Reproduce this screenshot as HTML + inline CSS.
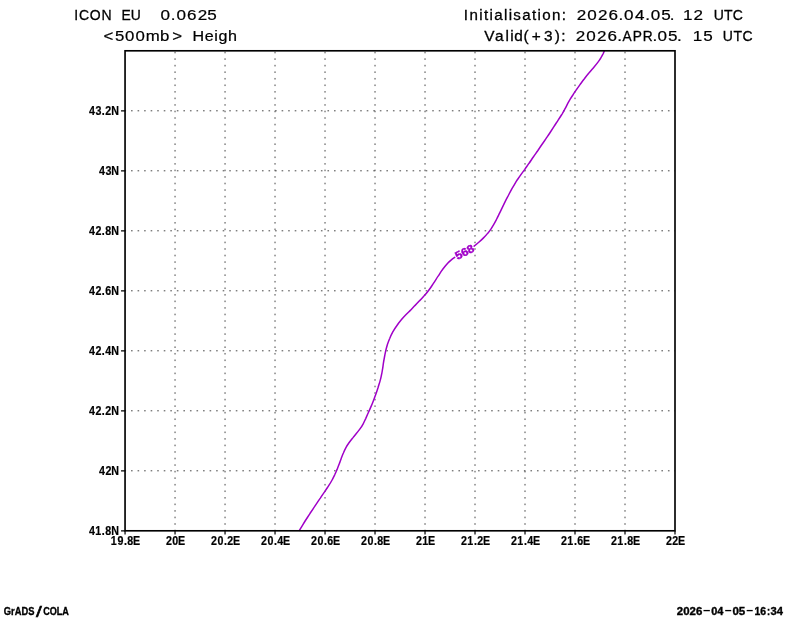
<!DOCTYPE html>
<html><head><meta charset="utf-8"><title>GrADS plot</title>
<style>html,body{margin:0;padding:0;background:#fff}svg{display:block}text{font-family:"Liberation Sans",sans-serif}</style></head>
<body>
<svg width="800" height="618" viewBox="0 0 800 618">
<rect width="800" height="618" fill="#fff"/>
<path d="M175.04 530.80V50.80M225.04 530.80V50.80M275.03 530.80V50.80M325.03 530.80V50.80M375.02 530.80V50.80M425.02 530.80V50.80M475.01 530.80V50.80M525.01 530.80V50.80M575.00 530.80V50.80M625.00 530.80V50.80" fill="none" stroke="#484848" stroke-width="1.0" stroke-dasharray="1.6 4.948" stroke-dashoffset="0.55"/>
<path d="M675.00 470.80H125.05M675.00 410.80H125.05M675.00 350.80H125.05M675.00 290.80H125.05M675.00 230.80H125.05M675.00 170.80H125.05M675.00 110.80H125.05" fill="none" stroke="#484848" stroke-width="1.0" stroke-dasharray="1.6 4.948" stroke-dashoffset="1.1"/>
<path d="M299.4 530.4C300.3 528.9 303.1 524.3 304.8 521.5C306.6 518.6 308.4 516.0 310.1 513.3C311.9 510.7 313.6 508.2 315.2 505.6C316.9 503.1 318.6 500.5 320.3 498.1C321.9 495.6 323.6 493.2 325.1 491.1C326.5 488.9 327.8 487.1 329.0 485.2C330.2 483.4 331.1 481.8 332.1 480.0C333.0 478.3 333.8 476.6 334.7 474.8C335.5 473.1 336.3 471.2 337.1 469.4C337.8 467.6 338.6 465.6 339.3 463.8C340.0 462.0 340.6 460.1 341.3 458.3C342.0 456.5 342.6 454.8 343.4 453.0C344.1 451.2 344.9 449.5 345.8 447.8C346.8 446.1 347.8 444.5 349.0 442.8C350.1 441.2 351.5 439.5 352.8 437.9C354.1 436.2 355.6 434.4 356.9 432.8C358.2 431.1 359.5 429.6 360.5 428.1C361.6 426.6 362.4 425.3 363.2 423.8C364.1 422.2 364.8 420.5 365.7 418.6C366.5 416.8 367.4 414.7 368.3 412.7C369.2 410.7 370.1 408.7 371.0 406.6C371.9 404.6 372.7 402.5 373.5 400.4C374.3 398.3 375.1 396.2 375.9 394.1C376.6 392.0 377.3 389.9 378.0 387.8C378.6 385.7 379.3 383.6 379.9 381.6C380.4 379.6 380.9 377.7 381.3 375.8C381.8 373.8 382.1 372.0 382.4 370.0C382.8 368.0 383.0 366.0 383.3 363.9C383.6 361.8 384.0 359.6 384.4 357.5C384.8 355.3 385.2 353.1 385.7 350.9C386.2 348.8 386.8 346.6 387.4 344.5C388.1 342.4 388.9 340.3 389.8 338.2C390.6 336.1 391.7 334.0 392.8 331.9C394.0 329.9 395.2 327.9 396.6 326.0C397.9 324.1 399.4 322.1 400.9 320.3C402.4 318.5 404.0 316.8 405.6 315.1C407.1 313.5 408.7 312.0 410.3 310.4C411.8 308.8 413.4 307.2 414.9 305.6C416.5 304.0 418.2 302.2 419.7 300.6C421.3 299.0 422.8 297.3 424.2 295.8C425.6 294.2 426.8 292.8 428.0 291.2C429.2 289.7 430.3 288.2 431.4 286.5C432.5 284.8 433.7 283.0 434.8 281.3C435.9 279.6 437.0 277.8 438.1 276.2C439.1 274.6 440.2 273.0 441.2 271.4C442.3 269.9 443.4 268.4 444.5 267.0C445.6 265.6 446.8 264.2 447.9 263.0C449.0 261.8 450.2 260.8 451.3 259.9C452.4 258.9 454.1 257.7 454.7 257.3" fill="none" stroke="#a000c8" stroke-width="1.5" stroke-linecap="round" stroke-linejoin="round"/>
<path d="M474.1 246.1C474.9 245.5 477.2 243.6 478.8 242.2C480.3 240.9 482.0 239.4 483.5 237.9C485.0 236.5 486.4 234.9 487.6 233.4C488.9 232.0 489.9 230.6 490.9 229.1C491.9 227.6 492.8 226.0 493.8 224.3C494.8 222.7 495.7 220.9 496.7 219.0C497.7 217.1 498.6 215.2 499.6 213.2C500.6 211.2 501.5 209.1 502.5 207.1C503.5 205.1 504.4 203.2 505.4 201.1C506.4 199.1 507.5 197.1 508.6 195.0C509.7 192.9 510.9 190.6 512.1 188.4C513.4 186.2 514.8 183.9 516.1 181.7C517.5 179.6 519.0 177.5 520.4 175.4C521.8 173.4 523.3 171.4 524.8 169.4C526.2 167.3 527.7 165.3 529.1 163.2C530.6 161.1 532.0 158.9 533.5 156.8C535.0 154.7 536.4 152.6 537.9 150.5C539.3 148.4 540.7 146.3 542.1 144.3C543.5 142.3 544.7 140.5 546.0 138.6C547.3 136.7 548.5 135.0 549.8 133.0C551.1 131.0 552.5 128.8 553.9 126.6C555.3 124.4 556.9 122.1 558.3 119.9C559.7 117.8 561.0 115.7 562.2 113.8C563.4 111.8 564.4 109.9 565.4 108.1C566.3 106.4 567.1 104.7 567.9 103.2C568.7 101.7 569.4 100.4 570.2 99.1C571.1 97.7 571.9 96.5 572.9 95.0C573.8 93.5 574.9 91.9 576.1 90.1C577.3 88.4 578.6 86.5 580.0 84.6C581.4 82.7 582.9 80.6 584.4 78.7C585.9 76.7 587.5 74.7 589.1 72.8C590.7 70.8 592.4 69.0 593.9 67.2C595.4 65.4 596.8 63.7 598.0 62.1C599.2 60.6 600.2 59.0 601.0 57.6C601.9 56.3 602.5 55.0 603.0 54.0C603.5 52.9 604.0 51.7 604.2 51.2" fill="none" stroke="#a000c8" stroke-width="1.5" stroke-linecap="round" stroke-linejoin="round"/>
<text id="clab" transform="translate(464.5 251.9) rotate(-27.5)" y="4.0" text-anchor="middle" stroke="#a000c8" stroke-width="0.4" font-size="11.2" font-weight="bold" fill="#a000c8" textLength="20.0" lengthAdjust="spacingAndGlyphs">568</text>
<path d="M125.05 530.80V534.40M175.04 530.80V534.40M225.04 530.80V534.40M275.03 530.80V534.40M325.03 530.80V534.40M375.02 530.80V534.40M425.02 530.80V534.40M475.01 530.80V534.40M525.01 530.80V534.40M575.00 530.80V534.40M625.00 530.80V534.40M674.99 530.80V534.40M125.05 530.80H121.05M125.05 470.80H121.05M125.05 410.80H121.05M125.05 350.80H121.05M125.05 290.80H121.05M125.05 230.80H121.05M125.05 170.80H121.05M125.05 110.80H121.05" fill="none" stroke="#000" stroke-width="1.2"/>
<rect x="125.05" y="50.8" width="549.95" height="480.00" fill="none" stroke="#000" stroke-width="1.65"/>
<text id="t0" x="74.33" y="19.80" font-size="14" stroke="#000" stroke-width="0.28" fill="#000" textLength="37.27" lengthAdjust="spacing">ICON</text>
<text id="t1" x="121.60" y="19.80" font-size="14" stroke="#000" stroke-width="0.28" fill="#000" textLength="19.30" lengthAdjust="spacingAndGlyphs">EU</text>
<text id="t2" transform="scale(1.22 1.05)" x="131.52 140.02 144.67 153.23 162.09 169.97" y="18.86" font-size="14" stroke="#000" stroke-width="0.2" fill="#000">0.0625</text>
<text id="t3" transform="scale(1.2 1.05)" x="86.24 95.79 104.19 112.94 121.46 133.41 143.45" y="39.33" font-size="14" stroke="#000" stroke-width="0.2" fill="#000">&lt;500mb&gt;</text>
<text id="t4" transform="translate(192.59 41.30) scale(1.15 1)" font-size="14" stroke="#000" stroke-width="0.2" fill="#000" textLength="38.67" lengthAdjust="spacing">Heigh</text>
<text id="t5" transform="translate(463.86 19.80) scale(1.08 1)" font-size="14" stroke="#000" stroke-width="0.28" fill="#000" textLength="94.60" lengthAdjust="spacing">Initialisation:</text>
<text id="t6" transform="scale(1.22 1.05)" x="472.66 481.35 490.12 498.85 506.99 511.48 520.50 528.96 533.40 541.94 549.04" y="18.86" font-size="14" stroke="#000" stroke-width="0.2" fill="#000">2026.04.05.</text>
<text id="t7" transform="scale(1.22 1.05)" x="559.77 568.48" y="18.86" font-size="14" stroke="#000" stroke-width="0.2" fill="#000">12</text>
<text id="t8" x="713.80" y="19.80" font-size="14" stroke="#000" stroke-width="0.28" fill="#000" textLength="29.10" lengthAdjust="spacing">UTC</text>
<text id="t9" transform="scale(1.1 1.0)" x="440.24 450.08 459.44 463.81 467.54 476.00 483.42 494.56 504.43 510.33" y="41.30" font-size="14" stroke="#000" stroke-width="0.28" fill="#000">Valid(+3):</text>
<text id="t10" transform="scale(1.22 1.05)" x="471.93 480.62 489.34 497.94 506.05" y="39.33" font-size="14" stroke="#000" stroke-width="0.2" fill="#000">2026.</text>
<text id="t11" transform="scale(0.98 1.0)" x="635.13 645.74 655.82" y="41.30" font-size="14" stroke="#000" stroke-width="0.28" fill="#000">APR</text>
<text id="t12" transform="scale(1.22 1.05)" x="534.86 538.98 547.60 554.94" y="39.33" font-size="14" stroke="#000" stroke-width="0.2" fill="#000">.05.</text>
<text id="t13" transform="scale(1.22 1.05)" x="567.88 576.53" y="39.33" font-size="14" stroke="#000" stroke-width="0.2" fill="#000">15</text>
<text id="t14" x="722.81" y="41.30" font-size="14" stroke="#000" stroke-width="0.28" fill="#000" textLength="29.70" lengthAdjust="spacing">UTC</text>
<text id="t15" transform="scale(0.93 1.11)" x="95.67 102.41 109.43 113.25 119.61" y="482.07" font-size="11.5" font-weight="bold" stroke="#000" stroke-width="0.2" fill="#000">41.8N</text>
<text id="t16" transform="scale(0.93 1.11)" x="106.42 113.39 119.61" y="428.02" font-size="11.5" font-weight="bold" stroke="#000" stroke-width="0.2" fill="#000">42N</text>
<text id="t17" transform="scale(0.93 1.11)" x="95.67 102.64 109.43 113.28 119.61" y="373.96" font-size="11.5" font-weight="bold" stroke="#000" stroke-width="0.2" fill="#000">42.2N</text>
<text id="t18" transform="scale(0.93 1.11)" x="95.67 102.64 109.43 113.20 119.61" y="319.91" font-size="11.5" font-weight="bold" stroke="#000" stroke-width="0.2" fill="#000">42.4N</text>
<text id="t19" transform="scale(0.93 1.11)" x="95.67 102.64 109.43 113.25 119.61" y="265.86" font-size="11.5" font-weight="bold" stroke="#000" stroke-width="0.2" fill="#000">42.6N</text>
<text id="t20" transform="scale(0.93 1.11)" x="95.67 102.64 109.43 113.25 119.61" y="211.80" font-size="11.5" font-weight="bold" stroke="#000" stroke-width="0.2" fill="#000">42.8N</text>
<text id="t21" transform="scale(0.93 1.11)" x="106.42 113.44 119.61" y="157.75" font-size="11.5" font-weight="bold" stroke="#000" stroke-width="0.2" fill="#000">43N</text>
<text id="t22" transform="scale(0.93 1.11)" x="95.67 102.68 109.43 113.28 119.61" y="103.69" font-size="11.5" font-weight="bold" stroke="#000" stroke-width="0.2" fill="#000">43.2N</text>
<text id="t23" transform="scale(0.93 1.11)" x="119.18 126.28 133.46 136.90 143.10" y="490.81" font-size="11.5" font-weight="bold" stroke="#000" stroke-width="0.2" fill="#000">19.8E</text>
<text id="t24" transform="scale(0.93 1.11)" x="178.55 185.31 191.33" y="490.81" font-size="11.5" font-weight="bold" stroke="#000" stroke-width="0.2" fill="#000">20E</text>
<text id="t25" transform="scale(0.93 1.11)" x="226.94 233.80 240.99 244.47 250.63" y="490.81" font-size="11.5" font-weight="bold" stroke="#000" stroke-width="0.2" fill="#000">20.2E</text>
<text id="t26" transform="scale(0.93 1.11)" x="280.70 287.56 294.75 298.14 304.39" y="490.81" font-size="11.5" font-weight="bold" stroke="#000" stroke-width="0.2" fill="#000">20.4E</text>
<text id="t27" transform="scale(0.93 1.11)" x="334.47 341.33 348.52 351.96 358.16" y="490.81" font-size="11.5" font-weight="bold" stroke="#000" stroke-width="0.2" fill="#000">20.6E</text>
<text id="t28" transform="scale(0.93 1.11)" x="388.23 395.09 402.28 405.72 411.92" y="490.81" font-size="11.5" font-weight="bold" stroke="#000" stroke-width="0.2" fill="#000">20.8E</text>
<text id="t29" transform="scale(0.93 1.11)" x="447.37 453.91 460.14" y="490.81" font-size="11.5" font-weight="bold" stroke="#000" stroke-width="0.2" fill="#000">21E</text>
<text id="t30" transform="scale(0.93 1.11)" x="495.76 502.41 509.81 513.28 519.45" y="490.81" font-size="11.5" font-weight="bold" stroke="#000" stroke-width="0.2" fill="#000">21.2E</text>
<text id="t31" transform="scale(0.93 1.11)" x="549.52 556.17 563.57 566.96 573.21" y="490.81" font-size="11.5" font-weight="bold" stroke="#000" stroke-width="0.2" fill="#000">21.4E</text>
<text id="t32" transform="scale(0.93 1.11)" x="603.28 609.93 617.33 620.78 626.97" y="490.81" font-size="11.5" font-weight="bold" stroke="#000" stroke-width="0.2" fill="#000">21.6E</text>
<text id="t33" transform="scale(0.93 1.11)" x="657.05 663.70 671.10 674.54 680.74" y="490.81" font-size="11.5" font-weight="bold" stroke="#000" stroke-width="0.2" fill="#000">21.8E</text>
<text id="t34" transform="scale(0.93 1.11)" x="716.19 722.96 728.96" y="490.81" font-size="11.5" font-weight="bold" stroke="#000" stroke-width="0.2" fill="#000">22E</text>
<text id="t35" x="3.77" y="614.80" font-size="10.6" font-weight="bold" stroke="#000" stroke-width="0.35" fill="#000" textLength="30.61" lengthAdjust="spacingAndGlyphs">GrADS</text>
<text id="t36" x="35.91" y="616.90" font-size="15.5" stroke="#000" stroke-width="0.55" fill="#000" textLength="5.82" lengthAdjust="spacingAndGlyphs">/</text>
<text id="t37" x="43.16" y="614.80" font-size="10.6" font-weight="bold" stroke="#000" stroke-width="0.35" fill="#000" textLength="25.73" lengthAdjust="spacingAndGlyphs">COLA</text>
<text id="t38" x="676.85" y="614.60" font-size="10.6" font-weight="bold" stroke="#000" stroke-width="0.35" fill="#000" textLength="25.39" lengthAdjust="spacingAndGlyphs">2026</text>
<text id="t39" x="702.42" y="613.30" font-size="10.6" font-weight="bold" fill="#000" textLength="8.37" lengthAdjust="spacingAndGlyphs">-</text>
<text id="t40" x="711.19" y="614.60" font-size="10.6" font-weight="bold" stroke="#000" stroke-width="0.35" fill="#000" textLength="12.25" lengthAdjust="spacingAndGlyphs">04</text>
<text id="t41" x="724.31" y="613.30" font-size="10.6" font-weight="bold" fill="#000" textLength="7.92" lengthAdjust="spacingAndGlyphs">-</text>
<text id="t42" x="732.42" y="614.60" font-size="10.6" font-weight="bold" stroke="#000" stroke-width="0.35" fill="#000" textLength="12.92" lengthAdjust="spacingAndGlyphs">05</text>
<text id="t43" x="745.76" y="613.30" font-size="10.6" font-weight="bold" fill="#000" textLength="7.93" lengthAdjust="spacingAndGlyphs">-</text>
<text id="t44" x="754.52" y="614.60" font-size="10.6" font-weight="bold" stroke="#000" stroke-width="0.35" fill="#000" textLength="11.61" lengthAdjust="spacingAndGlyphs">16</text>
<text id="t45" x="766.99" y="614.60" font-size="10.6" font-weight="bold" stroke="#000" stroke-width="0.35" fill="#000" textLength="3.10" lengthAdjust="spacingAndGlyphs">:</text>
<text id="t46" x="770.49" y="614.60" font-size="10.6" font-weight="bold" stroke="#000" stroke-width="0.35" fill="#000" textLength="12.47" lengthAdjust="spacingAndGlyphs">34</text>
</svg>
</body></html>
